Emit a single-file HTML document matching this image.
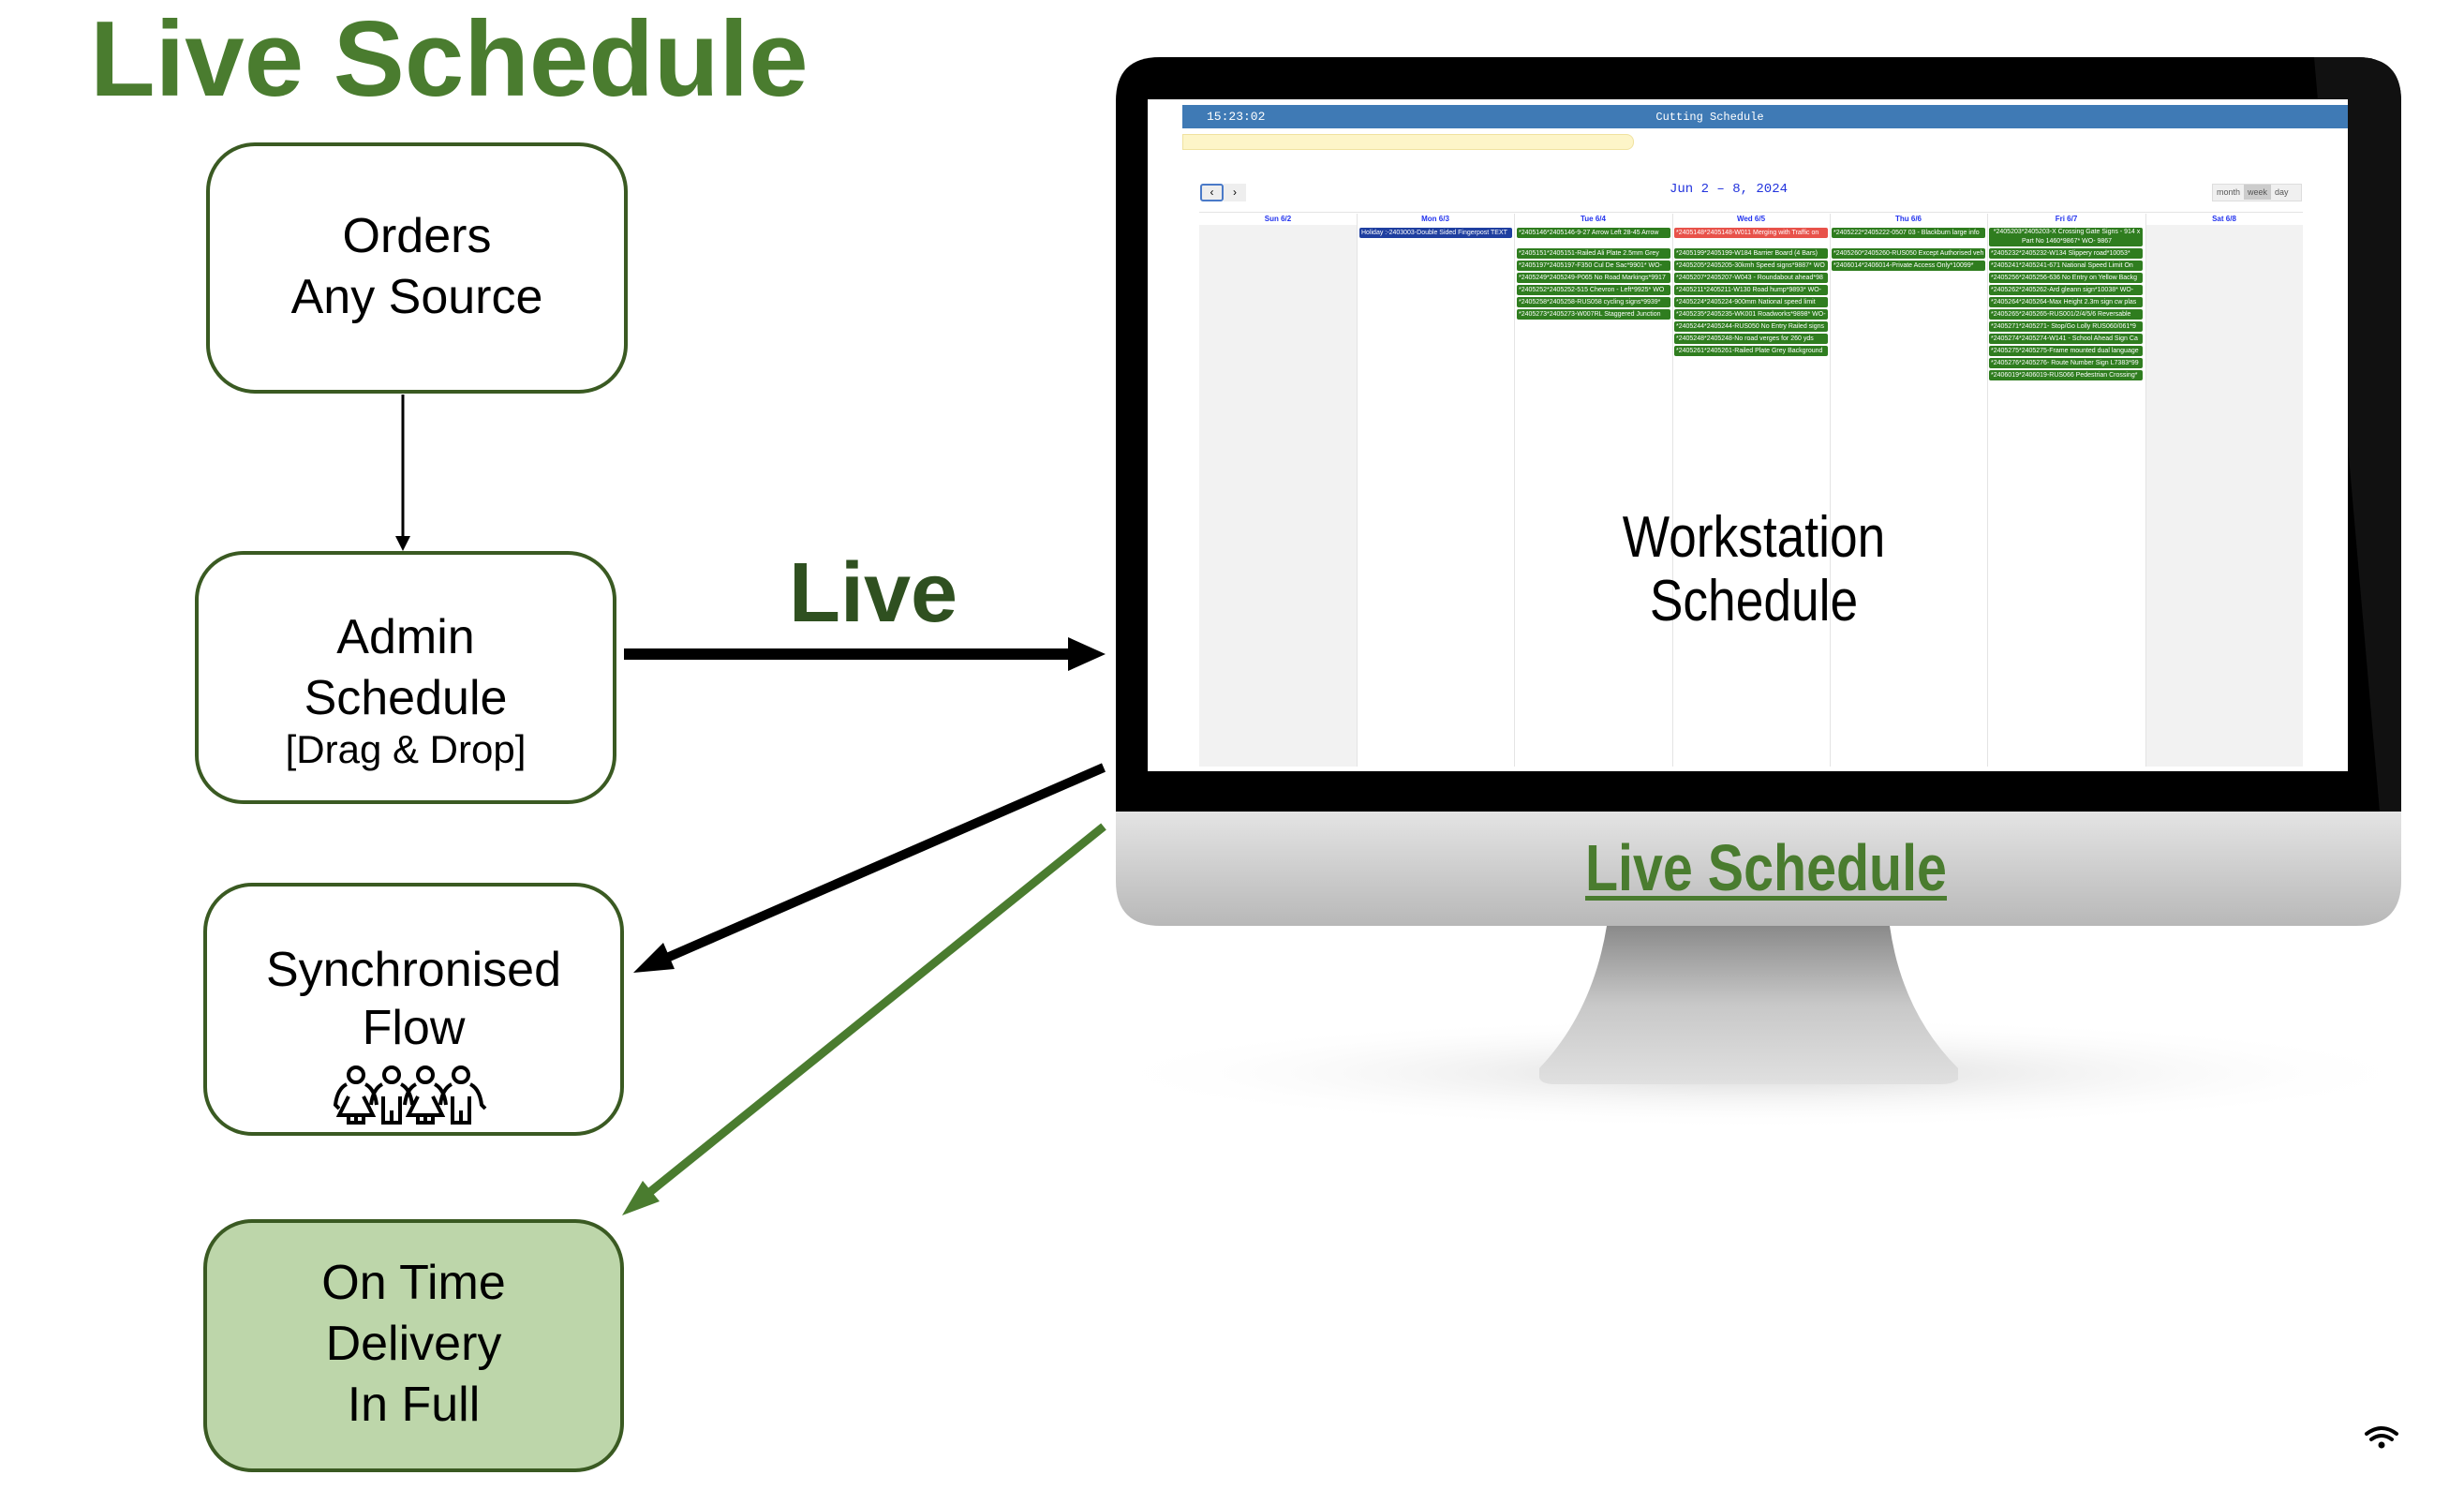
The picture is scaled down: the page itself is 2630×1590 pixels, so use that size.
<!DOCTYPE html>
<html><head><meta charset="utf-8"><style>
*{margin:0;padding:0;box-sizing:border-box}
body{width:2630px;height:1590px;background:#fff;position:relative;overflow:hidden;font-family:"Liberation Sans",sans-serif}
.a{position:absolute}
.box{position:absolute;border:4px solid #3a5a22;border-radius:52px;background:#fff;text-align:center;color:#000;font-size:52px;line-height:65px}
.ev{position:absolute;height:11px;background:#2f7d1f;border-radius:2px;color:#fff;font-size:7px;line-height:11px;white-space:nowrap;overflow:hidden;padding-left:2px;font-family:"Liberation Sans Narrow","Liberation Sans",sans-serif}
.ch{position:absolute;top:228px;height:12px;font-size:8px;color:#2233ee;text-align:center;line-height:12px;font-weight:bold}
</style></head><body>
<div class="a" style="left:96px;top:-2px;font-size:114px;font-weight:bold;color:#4a7c2f">Live Schedule</div>

<div class="box" style="left:220px;top:152px;width:450px;height:268px;padding-top:64px">Orders<br>Any Source</div>
<div class="box" style="left:208px;top:588px;width:450px;height:270px;padding-top:56px">Admin<br>Schedule<br><span style="font-size:42px;line-height:52px;display:block;margin-top:-4px">[Drag &amp; Drop]</span></div>
<div class="box" style="left:217px;top:942px;width:449px;height:270px;padding-top:58px;line-height:62px">Synchronised<br>Flow</div>
<div class="box" style="left:217px;top:1301px;width:449px;height:270px;padding-top:32px;background:#bdd6aa">On Time<br>Delivery<br>In Full</div>

<svg class="a" style="left:0;top:0" width="2630" height="1590">
<g fill="none" stroke="#000" stroke-width="4" transform="translate(0,10)">
<circle cx="380" cy="1137" r="8"/><circle cx="418" cy="1137" r="8"/><circle cx="454" cy="1137" r="8"/><circle cx="492" cy="1137" r="8"/>
<path d="M370 1147 q-10 5 -12 22 l4 4 M390 1147 q10 5 12 22 M372 1160 l-10 20 h36 l-10 -20 M372 1180 v8 h16 v-8 M380 1180v8"/>
<path d="M408 1147 q-10 5 -12 22 M428 1147 q10 5 12 22 M409 1160 v28 h18 v-28 M418 1175v13"/>
<path d="M444 1147 q-10 5 -12 22 M464 1147 q10 5 12 22 M446 1160 l-10 20 h36 l-10 -20 M446 1180 v8 h16 v-8 M454 1180v8"/>
<path d="M482 1147 q-10 5 -12 22 M502 1147 q10 5 12 22 l4 4 M483 1160 v28 h18 v-28 M492 1175v13"/>
</g>
<line x1="430" y1="421" x2="430" y2="575" stroke="#000" stroke-width="3"/>
<polygon points="422,572 438,572 430,588" fill="#000"/>
<line x1="666" y1="698" x2="1145" y2="698" stroke="#000" stroke-width="12"/>
<polygon points="1140,680 1180,698 1140,716" fill="#000"/>
<line x1="1178" y1="819" x2="705" y2="1025" stroke="#000" stroke-width="10"/>
<polygon points="676,1038 708,1006 720,1034" fill="#000"/>
<line x1="1178" y1="882" x2="690" y2="1275" stroke="#4a7c2f" stroke-width="9"/>
<polygon points="664,1297 686,1260 704,1282" fill="#4a7c2f"/>
<defs>
<radialGradient id="sh" cx="50%" cy="50%" r="50%"><stop offset="0" stop-color="#d8d8d8"/><stop offset="1" stop-color="#fff" stop-opacity="0"/></radialGradient>
<linearGradient id="chin" x1="0" y1="0" x2="0" y2="1"><stop offset="0" stop-color="#e4e4e4"/><stop offset="1" stop-color="#b8b8b8"/></linearGradient>
<linearGradient id="st" x1="0" y1="0" x2="0" y2="1"><stop offset="0" stop-color="#8a8a8a"/><stop offset=".5" stop-color="#c8c8c8"/><stop offset="1" stop-color="#e0e0e0"/></linearGradient>
</defs>
<ellipse cx="1880" cy="1145" rx="720" ry="60" fill="url(#sh)"/>
<path d="M1715 988 L2017 988 Q2030 1080 2090 1140 L2090 1152 Q2085 1157 2070 1157 L1660 1157 Q1645 1157 1643 1150 L1643 1140 Q1700 1080 1715 988Z" fill="url(#st)"/>
<path d="M1191 866 H2563 V940 Q2563 988 2515 988 H1239 Q1191 988 1191 940Z" fill="url(#chin)"/>
<path d="M1191 866 V108 Q1191 61 1238 61 H2516 Q2563 61 2563 108 V866Z" fill="#000"/>
<path d="M2470 61 H2516 Q2563 61 2563 108 V866 H2540 Z" fill="#111"/>
<rect x="1225" y="106" width="1281" height="717" fill="#fff"/>
<g fill="none" stroke="#000" stroke-width="4" stroke-linecap="round">
<path d="M2526 1530 q16 -12 32 0"/><path d="M2531 1536 q11 -8 22 0"/></g>
<circle cx="2542" cy="1542" r="3.5" fill="#000"/>
</svg>

<div class="a" style="left:1262px;top:112px;width:1244px;height:25px;background:#3f7ab5"></div>
<div class="a" style="left:1288px;top:113px;color:#fff;font-family:'Liberation Mono',monospace;font-size:13px;line-height:24px">15:23:02</div>
<div class="a" style="left:1740px;top:113px;width:170px;text-align:center;color:#fff;font-family:'Liberation Mono',monospace;font-size:12px;line-height:24px">Cutting Schedule</div>
<div class="a" style="left:1262px;top:143px;width:482px;height:17px;background:#fdf5c8;border:1px solid #f0e2a0;border-radius:0 8px 8px 0"></div>
<div class="a" style="left:1281px;top:196px;width:25px;height:19px;border:2px solid #4a7ac8;border-radius:3px;background:#eee;font-size:12px;text-align:center;line-height:15px">&#8249;</div>
<div class="a" style="left:1306px;top:196px;width:24px;height:19px;background:#eee;font-size:12px;text-align:center;line-height:19px">&#8250;</div>
<div class="a" style="left:1770px;top:194px;width:150px;text-align:center;color:#2233dd;font-family:'Liberation Mono',monospace;font-size:14px">Jun 2 – 8, 2024</div>
<div class="a" style="left:2361px;top:196px;width:96px;height:19px;background:#f0f0f0;border:1px solid #ddd;font-size:9px;color:#555;line-height:17px"><span style="padding:0 4px">month</span><span style="background:#ccc;padding:3px 4px">week</span><span style="padding:0 4px">day</span></div>

<div class="a" style="left:1280px;top:240px;width:168px;height:578px;background:#f2f2f2"></div>
<div class="a" style="left:2290px;top:240px;width:168px;height:578px;background:#f2f2f2"></div>
<div class="a" style="left:1280px;top:226px;width:1178px;height:1px;background:#e4e4e4"></div>
<div class="a" style="left:1448px;top:228px;width:1px;height:590px;background:#e4e4e4"></div>
<div class="a" style="left:1616px;top:228px;width:1px;height:590px;background:#e4e4e4"></div>
<div class="a" style="left:1785px;top:228px;width:1px;height:590px;background:#e4e4e4"></div>
<div class="a" style="left:1953px;top:228px;width:1px;height:590px;background:#e4e4e4"></div>
<div class="a" style="left:2121px;top:228px;width:1px;height:590px;background:#e4e4e4"></div>
<div class="a" style="left:2290px;top:228px;width:1px;height:590px;background:#e4e4e4"></div>
<div class="ch" style="left:1280px;width:168px">Sun 6/2</div>
<div class="ch" style="left:1448px;width:168px">Mon 6/3</div>
<div class="ch" style="left:1616px;width:169px">Tue 6/4</div>
<div class="ch" style="left:1785px;width:168px">Wed 6/5</div>
<div class="ch" style="left:1953px;width:168px">Thu 6/6</div>
<div class="ch" style="left:2121px;width:169px">Fri 6/7</div>
<div class="ch" style="left:2290px;width:168px">Sat 6/8</div>

<div class="ev" style="left:1451px;top:243px;width:163px;background:#1f3fa0">Holiday :-2403003-Double Sided Fingerpost TEXT</div>
<div class="ev" style="left:1619px;top:243px;width:164px">*2405146*2405146-9-27 Arrow Left 28-45 Arrow</div>
<div class="ev" style="left:1619px;top:265px;width:164px">*2405151*2405151-Railed Ali Plate 2.5mm Grey</div>
<div class="ev" style="left:1619px;top:278px;width:164px">*2405197*2405197-F350 Cul De Sac*9901* WO-</div>
<div class="ev" style="left:1619px;top:291px;width:164px">*2405249*2405249-P065 No Road Markings*9917</div>
<div class="ev" style="left:1619px;top:304px;width:164px">*2405252*2405252-515 Chevron - Left*9925* WO</div>
<div class="ev" style="left:1619px;top:317px;width:164px">*2405258*2405258-RUS058 cycling signs*9939*</div>
<div class="ev" style="left:1619px;top:330px;width:164px">*2405273*2405273-W007RL Staggered Junction</div>
<div class="ev" style="left:1787px;top:243px;width:164px;background:#e8524a">*2405148*2405148-W011 Merging with Traffic on</div>
<div class="ev" style="left:1787px;top:265px;width:164px">*2405199*2405199-W184 Barrier Board (4 Bars)</div>
<div class="ev" style="left:1787px;top:278px;width:164px">*2405205*2405205-30kmh Speed signs*9887* WO</div>
<div class="ev" style="left:1787px;top:291px;width:164px">*2405207*2405207-W043 - Roundabout ahead*98</div>
<div class="ev" style="left:1787px;top:304px;width:164px">*2405211*2405211-W130 Road hump*9893* WO-</div>
<div class="ev" style="left:1787px;top:317px;width:164px">*2405224*2405224-900mm National speed limit</div>
<div class="ev" style="left:1787px;top:330px;width:164px">*2405235*2405235-WK001 Roadworks*9898* WO-</div>
<div class="ev" style="left:1787px;top:343px;width:164px">*2405244*2405244-RUS050 No Entry Railed signs</div>
<div class="ev" style="left:1787px;top:356px;width:164px">*2405248*2405248-No road verges for 260 yds</div>
<div class="ev" style="left:1787px;top:369px;width:164px">*2405261*2405261-Railed Plate Grey Background</div>
<div class="ev" style="left:1955px;top:243px;width:164px">*2405222*2405222-0507 03 - Blackburn large info</div>
<div class="ev" style="left:1955px;top:265px;width:164px">*2405260*2405260-RUS050 Except Authorised veh</div>
<div class="ev" style="left:1955px;top:278px;width:164px">*2406014*2406014-Private Access Only*10099*</div>
<div class="ev" style="left:2123px;top:243px;width:164px;height:20px;text-align:center;line-height:10px">*2405203*2405203-X Crossing Gate Signs - 914 x<br>Part No 1460*9867* WO- 9867</div>
<div class="ev" style="left:2123px;top:265px;width:164px">*2405232*2405232-W134 Slippery road*10053*</div>
<div class="ev" style="left:2123px;top:278px;width:164px">*2405241*2405241-671 National Speed Limit On</div>
<div class="ev" style="left:2123px;top:291px;width:164px">*2405256*2405256-636 No Entry on Yellow Backg</div>
<div class="ev" style="left:2123px;top:304px;width:164px">*2405262*2405262-Ard gleann sign*10038* WO-</div>
<div class="ev" style="left:2123px;top:317px;width:164px">*2405264*2405264-Max Height 2.3m sign cw plas</div>
<div class="ev" style="left:2123px;top:330px;width:164px">*2405265*2405265-RUS001/2/4/5/6 Reversable</div>
<div class="ev" style="left:2123px;top:343px;width:164px">*2405271*2405271- Stop/Go Lolly RUS060/061*9</div>
<div class="ev" style="left:2123px;top:356px;width:164px">*2405274*2405274-W141 - School Ahead Sign Ca</div>
<div class="ev" style="left:2123px;top:369px;width:164px">*2405275*2405275-Frame mounted dual language</div>
<div class="ev" style="left:2123px;top:382px;width:164px">*2405276*2405276- Route Number Sign L7383*99</div>
<div class="ev" style="left:2123px;top:395px;width:164px">*2406019*2406019-RUS066 Pedestrian Crossing*</div>

<div class="a" style="left:1672px;top:540px;width:400px;text-align:center;font-size:62px;line-height:68px;transform:scaleX(.86)">Workstation<br>Schedule</div>
<div class="a" style="left:1620px;top:886px;width:530px;text-align:center;font-size:70px;font-weight:bold;color:#4a7c2f;text-decoration:underline;text-decoration-thickness:5px;text-underline-offset:6px;transform:scaleX(.82)">Live Schedule</div>
<div class="a" style="left:842px;top:582px;font-size:90px;font-weight:bold;color:#2f5020">Live</div>
</body></html>
